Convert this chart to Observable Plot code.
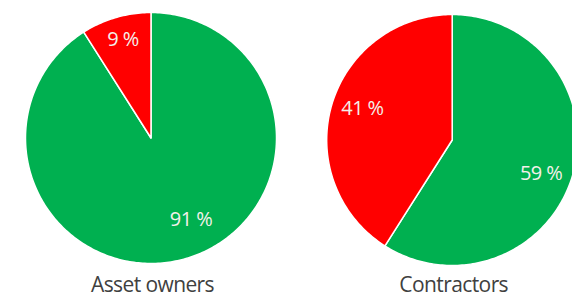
<!DOCTYPE html>
<html><head><meta charset="utf-8">
<script src="https://cdn.jsdelivr.net/npm/d3@7"></script>
<script src="https://cdn.jsdelivr.net/npm/@observablehq/plot@0.6"></script>
<style>
body{margin:0;background:#fff}
#chart svg text{letter-spacing:-0.6px}
</style>
</head><body><div id="chart"></div>
<script>
// ---- data ----
const groups = ["Asset owners", "Contractors"];
const sliceKeys = ["Share A", "Share B"];
const greenShare = [91, 59];
const redShare = [9, 41];

// ---- layout (pixels) ----
const W = 572, H = 298, R = 125.5;
const centers = [[150.5, 137.5], [451.7, 139.5]];
const labelRadius = 0.77;
// small nudges of the label anchors (per group, per slice), pixels
const labelNudge = [[[13, -11], [-1, -6]], [[-4, 6.5], [3, -4.5]]];
const titleMiddle = 285;

const slicePts = [], labels = [], titles = [];
groups.forEach((g, gi) => {
  const [cx, cy] = centers[gi];
  const vals = [greenShare[gi], redShare[gi]];
  const total = d3.sum(vals);
  let a = 0;
  vals.forEach((v, si) => {
    const a0 = a, a1 = a + v / total * 2 * Math.PI;
    a = a1;
    const id = g + "-" + sliceKeys[si];
    slicePts.push({id, key: sliceKeys[si], x: cx, y: cy});
    const n = Math.max(2, Math.ceil((a1 - a0) / (Math.PI / 180)));
    for (let k = 0; k <= n; k++) {
      const t = a0 + (a1 - a0) * k / n;
      slicePts.push({id, key: sliceKeys[si], x: cx + R * Math.sin(t), y: cy - R * Math.cos(t)});
    }
    slicePts.push({id, key: sliceKeys[si], x: cx, y: cy});
    const m = (a0 + a1) / 2;
    const [ndx, ndy] = labelNudge[gi][si];
    labels.push({text: v + " %", x: cx + labelRadius * R * Math.sin(m) + ndx, y: cy - labelRadius * R * Math.cos(m) + ndy});
  });
  titles.push({text: g, x: cx + 1.5, y: titleMiddle});
});

const chart = Plot.plot({
  width: W, height: H,
  margin: 0,
  x: {domain: [0, W], range: [0, W], axis: null},
  y: {domain: [0, H], range: [0, H], axis: null},
  color: {type: "ordinal", domain: sliceKeys, range: ["#00B050", "#FF0000"]},
  style: {background: "#fff"},
  marks: [
    Plot.line(slicePts, {x: "x", y: "y", z: "id", fill: "key", stroke: "#fff", strokeWidth: 1.5, curve: "linear"}),
    Plot.text(labels, {x: "x", y: "y", text: "text", fill: "#F4F0EA", fontSize: 20, fontFamily: "Open Sans", textAnchor: "middle", lineAnchor: "middle"}),
    Plot.text(titles, {x: "x", y: "y", text: "text", fill: "#404040", fontSize: 21, fontFamily: "Open Sans", textAnchor: "middle", lineAnchor: "middle"})
  ]
});
document.getElementById("chart").append(chart);
</script>
</body></html>
